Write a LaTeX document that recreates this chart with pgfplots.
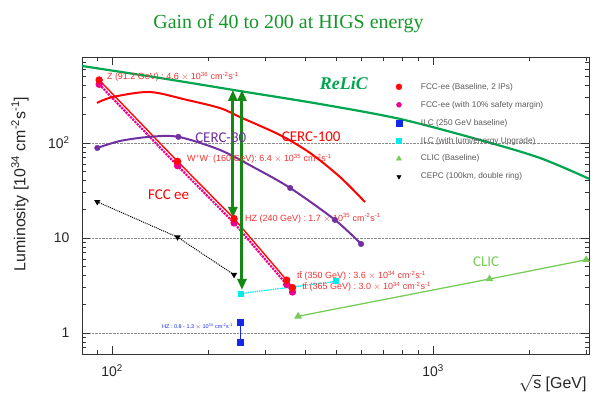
\documentclass[border=0pt]{standalone}
\usepackage{fontspec}
\setmainfont{Liberation Sans}
\newfontfamily\timesf{Liberation Serif}
\newfontfamily\carl{Carlito}
\usepackage{pgfplots}
\pgfplotsset{compat=1.18}
\usetikzlibrary{arrows.meta}
\definecolor{titlegreen}{RGB}{20,150,40}
\definecolor{relicgreen}{RGB}{0,165,80}
\definecolor{arrowgreen}{RGB}{20,135,20}
\definecolor{clicgreen}{RGB}{120,205,90}
\definecolor{cercpurple}{RGB}{112,48,160}
\definecolor{labred}{RGB}{240,50,50}
\definecolor{fccred}{RGB}{255,10,10}
\definecolor{ilccyan}{RGB}{0,235,235}
\definecolor{ilcblue}{RGB}{20,40,235}
\definecolor{leggray}{RGB}{90,90,90}
\newcommand{\fs}[1]{\fontsize{#1}{#1}\selectfont}
\newcommand{\sups}[1]{\textsuperscript{#1}}
\begin{document}
\begin{tikzpicture}
\begin{axis}[
  scale only axis, width=507bp, height=297bp,
  xmode=log, ymode=log,
  xmin=80.64, xmax=3062, ymin=0.601, ymax=803,
  xtick={100,1000}, xticklabels={10\sups{2},10\sups{3}},
  ytick={1,10,100}, yticklabels={1,10,10\sups{2}},
  minor xtick={90,200,300,400,500,600,700,800,900,2000,3000},
  minor ytick={0.7,0.8,0.9,2,3,4,5,6,7,8,9,20,30,40,50,60,70,80,90,200,300,400,500,600,700,800},
  tick align=inside, major tick length=8bp, minor tick length=4bp,
  tick style={black!80, line width=0.6bp},
  axis line style={black!80, line width=0.8bp},
  ymajorgrids, major grid style={densely dotted, black!45, line width=0.5bp},
  tick label style={font=\fs{14}, text=black!85},
  xticklabel style={yshift=-7bp},
  yticklabel style={xshift=-9bp},
  legend style={draw=none, fill=none, at={(rel axis cs:0.613,0.923)}, anchor=north west,
    font=\fs{8.3}, text=leggray, row sep=8.5bp, nodes={inner sep=1bp},
    /tikz/every odd column/.append style={column sep=18bp}},
  legend cell align=left,
]
% magenta (10% margin)
\addplot[forget plot, magenta, line width=2.2bp, densely dotted, mark=*, mark size=2.5, mark options={solid}]
  coordinates {(91.2,414)(160,57.6)(240,14.4)(350,3.24)(365,2.7)};
% FCC-ee baseline
\addplot[forget plot, fccred, line width=1.4bp, mark=*, mark size=3]
  coordinates {(91.2,460)(160,64)(240,16)(350,3.6)(365,3.0)};
% CEPC
\addplot[forget plot, black, densely dotted, line width=1bp, mark=triangle*, mark size=2.6, mark options={solid, rotate=180}]
  coordinates {(90,24)(160,10.2)(240,4.1)};
% ILC upgrade
\addplot[forget plot, ilccyan, densely dotted, line width=1.3bp, mark=square*, mark size=2.3, mark options={solid}]
  coordinates {(252,2.6)(500,3.5)};
% ILC baseline
\addplot[forget plot, ilcblue, line width=1bp, mark=square*, mark size=3]
  coordinates {(252,0.8)(252,1.3)};
% CLIC
\addplot[forget plot, clicgreen, line width=1.3bp, mark=triangle*, mark size=3.2]
  coordinates {(380,1.5)(1500,3.7)(3000,5.9)};
% CERC-30
\addplot[forget plot, cercpurple, line width=2bp, smooth]
  coordinates {(90,88.6)(106,105)(131,116)(161,116)(217,84.4)(279,54.5)(359,33.6)(495,15.5)(597,8.65)};
\addplot[forget plot, only marks, cercpurple, mark=*, mark size=2.8]
  coordinates {(90,88.6)(161,116)(359,33.6)(495,15.5)(597,8.65)};
% CERC-100
\addplot[forget plot, red, line width=2bp, smooth]
  coordinates {(89.8,264)(100.7,305)(131,344)(171,284)(217,233)(250,188)(334,121)(414,78.5)(513,43.9)(614,23.9)};
% ReLiC
\addplot[forget plot, relicgreen, line width=2.2bp, smooth]
  coordinates {(80.64,646)(141.1,483)(250.5,352)(444.6,257)(789,179)(1401,107.5)(2154,69.5)(3062,42)};
% gain arrows
\addplot[forget plot, arrowgreen, line width=3bp, {Triangle[width=9bp,length=11bp]}-{Triangle[width=9bp,length=11bp]}]
  coordinates {(238,361)(238,16.3)};
\addplot[forget plot, arrowgreen, line width=3bp, {Triangle[width=9bp,length=11bp]}-{Triangle[width=9bp,length=11bp]}]
  coordinates {(254,361)(254,2.84)};
% annotations
\node[anchor=west, text=labred, font=\fs{9}, inner sep=0] at (rel axis cs:0.049,0.933) {Z (91.2 GeV) : 4.6 $\times$ 10\sups{36} cm\sups{-2}s\sups{-1}};
\node[anchor=west, text=labred, font=\fs{9}, inner sep=0] at (rel axis cs:0.207,0.657) {W\sups{+}W\sups{-} (160 GeV): 6.4 $\times$ 10\sups{35} cm\sups{-2}s\sups{-1}};
\node[anchor=west, text=labred, font=\fs{9}, inner sep=0] at (rel axis cs:0.3215,0.458) {HZ (240 GeV) : 1.7 $\times$ 10\sups{35} cm\sups{-2}s\sups{-1}};
\node[anchor=west, text=labred, font=\fs{9}, inner sep=0] at (rel axis cs:0.424,0.263) {t\={t} (350 GeV) : 3.6 $\times$ 10\sups{34} cm\sups{-2}s\sups{-1}};
\node[anchor=west, text=labred, font=\fs{9}, inner sep=0] at (rel axis cs:0.434,0.226) {t\={t} (365 GeV) : 3.0 $\times$ 10\sups{34} cm\sups{-2}s\sups{-1}};
\node[anchor=east, text=ilcblue, font=\fs{5.5}, inner sep=0] at (rel axis cs:0.298,0.091) {HZ : 0.8 - 1.3 $\times$ 10\sups{34} cm\sups{-2}s\sups{-1}};
\node[anchor=west, text=red, font=\carl\fs{15}, inner sep=0] at (rel axis cs:0.130,0.535) {FCC ee};
\node[anchor=west, text=cercpurple, font=\carl\fs{15}, inner sep=0] at (rel axis cs:0.223,0.727) {CERC-30};
\node[anchor=west, text=red, font=\carl\fs{15}, inner sep=0] at (rel axis cs:0.394,0.731) {CERC-100};
\node[anchor=west, text=clicgreen, font=\carl\fs{15}, inner sep=0] at (rel axis cs:0.771,0.310) {CLIC};
\node[anchor=west, text=relicgreen, font=\timesf\bfseries\itshape\fs{18}, inner sep=0] at (rel axis cs:0.469,0.912) {ReLiC};
% legend
\addlegendimage{only marks, mark=*, fccred, mark size=3}
\addlegendentry{FCC-ee (Baseline, 2 IPs)}
\addlegendimage{only marks, mark=*, magenta, mark size=2.5}
\addlegendentry{FCC-ee (with 10\% safety margin)}
\addlegendimage{only marks, mark=square*, ilcblue, mark size=3}
\addlegendentry{ILC (250 GeV baseline)}
\addlegendimage{only marks, mark=square*, ilccyan, mark size=2.5}
\addlegendentry{ILC (with lumi/energy Upgrade)}
\addlegendimage{only marks, mark=triangle*, clicgreen, mark size=3}
\addlegendentry{CLIC (Baseline)}
\addlegendimage{only marks, mark=triangle*, black, mark size=2.5, mark options={rotate=180}}
\addlegendentry{CEPC (100km, double ring)}
\end{axis}
\node[font=\timesf\fs{20}, text=titlegreen] at (206.5bp,330bp) {Gain of 40 to 200 at HIGS energy};
\node[font=\fs{16}, text=black!85, rotate=90] at (-62bp,170bp) {Luminosity [10\sups{34} cm\sups{-2}s\sups{-1}]};
\node[font=\fs{16}, text=black!85, anchor=east] at (508bp,-29bp) {$\sqrt{\mbox{s}}$ [GeV]};
\pgfresetboundingbox
\useasboundingbox (-82bp,-44bp) rectangle (515bp,354bp);
\end{tikzpicture}
\end{document}
